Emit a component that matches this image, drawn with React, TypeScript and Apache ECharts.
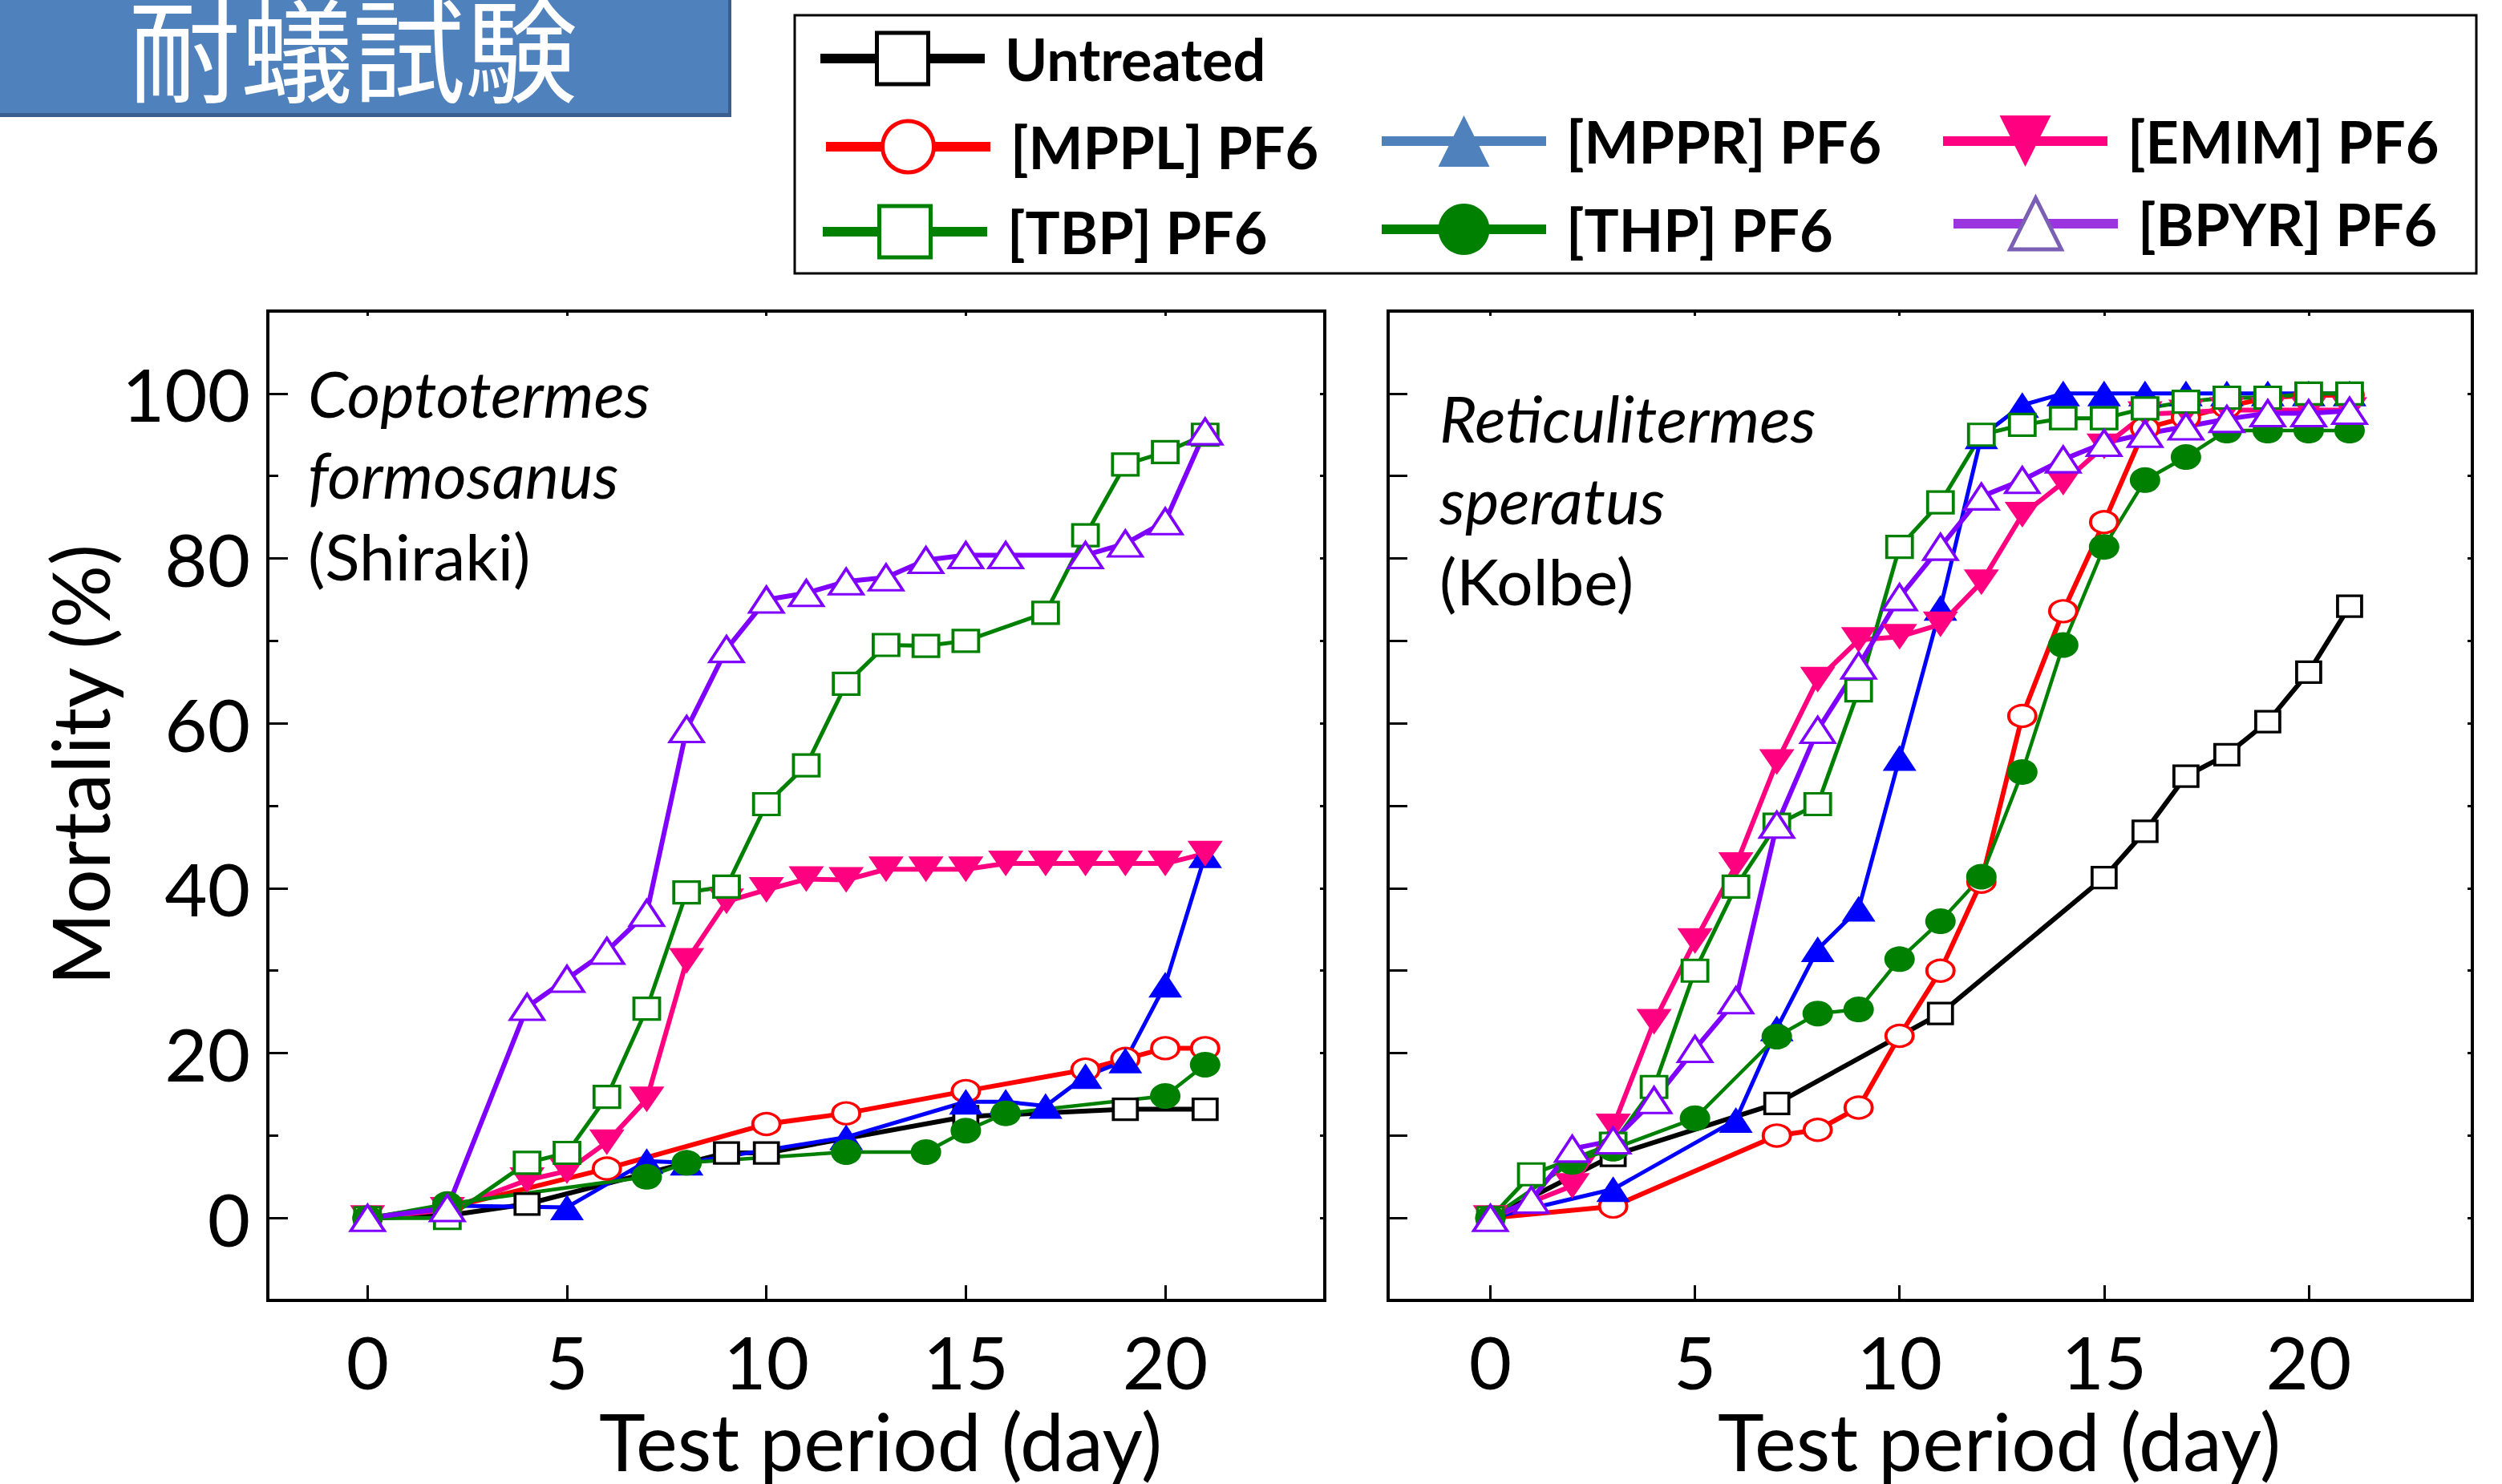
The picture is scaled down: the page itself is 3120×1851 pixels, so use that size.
import React, { useEffect, useRef } from 'react';
import * as echarts from 'echarts';

// ---------- tick values ----------
const DAY_TICKS = [0, 5, 10, 15, 20];
const MORTALITY_MAJOR = [0, 20, 40, 60, 80, 100];
const MORTALITY_MINOR = [10, 30, 50, 70, 90];
const MORTALITY_ALL = [0, 10, 20, 30, 40, 50, 60, 70, 80, 90, 100];

// ---------- series names ----------
const NAMES = ['Untreated', '[MPPL] PF6', '[MPPR] PF6', '[EMIM] PF6', '[TBP] PF6', '[THP] PF6', '[BPYR] PF6'];

// ---------- Coptotermes formosanus (left panel): [day, mortality %] ----------
const cfUntreated = [[0, 0], [2, 0.3], [4, 1.7], [9, 7.9], [10, 7.9], [15, 12.3], [19, 13.2], [21, 13.2]];
const cfMPPL = [[0, 0], [2, 1.2], [6, 6], [10, 11.4], [12, 12.7], [15, 15.4], [18, 18], [19, 19.3], [20, 20.6], [21, 20.6]];
const cfMPPR = [[0, 0], [2, 1.5], [5, 1.3], [7, 6.9], [8, 6.7], [12, 9.8], [15, 14.1], [16, 14.1], [17, 13.6], [18, 17.2], [19, 19.1], [20, 28.3], [21, 44]];
const cfEMIM = [[0, 0], [2, 1], [4, 4.6], [5, 5.7], [6, 9.2], [7, 14.4], [8, 31.2], [9, 38.4], [10, 39.8], [11, 41.1], [12, 41], [13, 42.3], [14, 42.3], [15, 42.3], [16, 43], [17, 43], [18, 43], [19, 43], [20, 43], [21, 44.2]];
const cfTBP = [[0, 0], [2, 0], [4, 6.7], [5, 7.9], [6, 14.7], [7, 25.4], [8, 39.5], [9, 40.2], [10, 50.2], [11, 54.9], [12, 64.8], [13, 69.5], [14, 69.4], [15, 70], [17, 73.4], [18, 82.8], [19, 91.4], [20, 92.9], [21, 95]];
const cfTHP = [[0, 0], [2, 1.7], [7, 5], [8, 6.7], [12, 8], [14, 8], [15, 10.6], [16, 12.7], [20, 14.8], [21, 18.6]];
const cfBPYR = [[0, 0], [2, 1.2], [4, 25.6], [5, 29], [6, 32.4], [7, 37], [8, 59.3], [9, 69], [10, 75], [11, 75.8], [12, 77.2], [13, 77.7], [14, 79.8], [15, 80.4], [16, 80.4], [18, 80.4], [19, 81.8], [20, 84.5], [21, 95.4]];

// ---------- Reticulitermes speratus (right panel): [day, mortality %] ----------
const rsUntreated = [[0, 0], [3, 7.6], [7, 13.9], [11, 24.8], [15, 41.3], [16, 46.9], [17, 53.6], [18, 56.2], [19, 60.2], [20, 66.2], [21, 74.2]];
const rsMPPL = [[0, 0], [3, 1.4], [7, 10], [8, 10.7], [9, 13.4], [10, 22.1], [11, 30], [12, 40.8], [13, 60.9], [14, 73.6], [15, 84.4], [16, 95.8], [17, 97.1], [18, 98.4], [19, 99.5], [20, 99.8], [21, 99.8]];
const rsMPPR = [[0, 0], [3, 3.5], [6, 11.9], [7, 23], [8, 32.6], [9, 37.5], [10, 55.8], [11, 74], [12, 94.8], [13, 98.6], [14, 100], [15, 100], [16, 100], [17, 100], [18, 100], [19, 100], [20, 100], [21, 100]];
const rsEMIM = [[0, 0], [2, 3.9], [3, 11.1], [4, 23.8], [5, 33.6], [6, 42.8], [7, 55.3], [8, 65.3], [9, 70.1], [10, 70.5], [11, 72], [12, 77.1], [13, 85.3], [14, 89.2], [15, 93.6], [16, 97.5], [17, 97.7], [18, 98], [19, 98], [20, 98], [21, 98]];
const rsTBP = [[0, 0], [1, 5.3], [3, 9], [4, 15.9], [5, 30], [6, 40.2], [7, 47.7], [8, 50.2], [9, 64], [10, 81.4], [11, 86.8], [12, 95], [13, 96.2], [14, 97], [15, 97], [16, 98.2], [17, 99], [18, 99.5], [19, 99.5], [20, 100], [21, 100]];
const rsTHP = [[0, 0], [2, 6.8], [3, 8.4], [5, 12.1], [7, 22], [8, 24.8], [9, 25.3], [10, 31.4], [11, 36], [12, 41.4], [13, 54.1], [14, 69.5], [15, 81.4], [16, 89.5], [17, 92.3], [18, 95.5], [19, 95.5], [20, 95.5], [21, 95.5]];
const rsBPYR = [[0, 0], [1, 2.2], [2, 8.4], [3, 9.4], [4, 14.3], [5, 20.5], [6, 26.4], [7, 47.7], [8, 59.2], [9, 67], [10, 75.3], [11, 81.4], [12, 87.5], [13, 89.5], [14, 92], [15, 94], [16, 95.1], [17, 96], [18, 96.9], [19, 97.6], [20, 97.6], [21, 97.9]];

const LEFT_DATA = [cfUntreated, cfMPPL, cfMPPR, cfEMIM, cfTBP, cfTHP, cfBPYR];
const RIGHT_DATA = [rsUntreated, rsMPPL, rsMPPR, rsEMIM, rsTBP, rsTHP, rsBPYR];

// ---------- styles (aligned with NAMES) ----------
const DOWN_TRI = 'path://M0,0L10,0L5,8Z';
const STYLES = [
  { color: '#000000', symbol: 'rect', size: [30, 26], fill: '#ffffff', bw: 3.5, lw: 6 },
  { color: '#FF0000', symbol: 'circle', size: [34, 27], fill: '#ffffff', bw: 3.5, lw: 6 },
  { color: '#0000FF', symbol: 'triangle', size: [42, 32], fill: '#0000FF', bw: 0, lw: 5 },
  { color: '#FF0080', symbol: DOWN_TRI, size: [44, 32], fill: '#FF0080', bw: 0, lw: 6 },
  { color: '#008000', symbol: 'rect', size: [32, 27], fill: '#ffffff', bw: 3.5, lw: 5 },
  { color: '#008000', symbol: 'circle', size: [38, 32], fill: '#008000', bw: 0, lw: 4.5 },
  { color: '#8000FF', symbol: 'triangle', size: [42, 32], fill: '#ffffff', bw: 3.5, lw: 6 },
];

const LEGEND_LAYOUT = [
  { left: 1017, top: 37 },
  { left: 1024, top: 147 },
  { left: 1717, top: 140 },
  { left: 2417, top: 140 },
  { left: 1020, top: 253 },
  { left: 1717, top: 250 },
  { left: 2430, top: 243 },
];

const LEGEND_OVERRIDE: Record<string, any> = {
  '[MPPR] PF6': { itemStyle: { color: '#4F81BD', borderColor: '#4F81BD' }, lineStyle: { color: '#4F81BD' } },
  '[BPYR] PF6': { itemStyle: { color: '#ffffff', borderColor: '#7B5FB5' }, lineStyle: { color: '#9B35E0' } },
};

const FONT = 'Lato, "Open Sans", sans-serif';

function buildOption() {
  const series: any[] = [];
  NAMES.forEach((name, i) => {
    const s = STYLES[i];
    [LEFT_DATA[i], RIGHT_DATA[i]].forEach((data, g) => {
      series.push({
        type: 'line',
        name,
        data,
        xAxisIndex: g === 0 ? 0 : 2,
        yAxisIndex: g === 0 ? 0 : 3,
        symbol: s.symbol,
        symbolSize: s.size,
        showAllSymbol: true,
        lineStyle: { color: s.color, width: s.lw },
        itemStyle: { color: s.fill, borderColor: s.color, borderWidth: s.bw },
        emphasis: { disabled: true },
      });
    });
  });

  const tickLine = { color: '#000', width: 3 };
  const noLine = { show: false, onZero: false };
  const xBase = { type: 'value', min: -2.5, max: 24, splitLine: { show: false }, axisLine: noLine };
  const yBase = { type: 'value', min: -10, max: 110, interval: 10, splitLine: { show: false }, axisLine: noLine };
  const tickLabel = { fontSize: 92, fontFamily: FONT, color: '#000', lineHeight: 70 };
  const nameStyle = { fontSize: 98, fontFamily: FONT, color: '#000', lineHeight: 80 };

  const xAxis = [0, 1].flatMap((g) => [
    {
      ...xBase,
      gridIndex: g,
      position: 'bottom',
      axisTick: { show: true, inside: true, length: 19, customValues: DAY_TICKS, lineStyle: tickLine },
      axisLabel: { show: true, customValues: DAY_TICKS, margin: 40, hideOverlap: false, ...tickLabel },
      name: 'Test period (day)',
      nameLocation: 'middle',
      nameGap: 133,
      nameTextStyle: { ...nameStyle, padding: [0, 0, 0, g === 0 ? 210 : 172] },
    },
    {
      ...xBase,
      gridIndex: g,
      position: 'top',
      axisTick: { show: true, inside: true, length: 6, customValues: DAY_TICKS, lineStyle: tickLine },
      axisLabel: { show: false },
    },
  ]);

  const yAxis = [
    {
      ...yBase,
      gridIndex: 0,
      position: 'left',
      axisTick: { show: true, inside: true, length: 25, customValues: MORTALITY_MAJOR, lineStyle: tickLine },
      axisLabel: { show: true, customValues: MORTALITY_MAJOR, margin: 22, ...tickLabel },
      name: 'Mortality (%)',
      nameLocation: 'middle',
      nameGap: 195,
      nameRotate: 90,
      nameTextStyle: { ...nameStyle, padding: [0, 0, 0, 102] },
    },
    {
      ...yBase,
      gridIndex: 0,
      position: 'left',
      axisTick: { show: true, inside: true, length: 13, customValues: MORTALITY_MINOR, lineStyle: tickLine },
      axisLabel: { show: false },
    },
    {
      ...yBase,
      gridIndex: 0,
      position: 'right',
      axisTick: { show: true, inside: true, length: 6, customValues: MORTALITY_ALL, lineStyle: tickLine },
      axisLabel: { show: false },
    },
    {
      ...yBase,
      gridIndex: 1,
      position: 'left',
      axisTick: { show: true, inside: true, length: 24, customValues: MORTALITY_ALL, lineStyle: tickLine },
      axisLabel: { show: false },
    },
    {
      ...yBase,
      gridIndex: 1,
      position: 'right',
      axisTick: { show: true, inside: true, length: 6, customValues: MORTALITY_ALL, lineStyle: tickLine },
      axisLabel: { show: false },
    },
  ];

  const legend = NAMES.map((name, i) => ({
    data: [{ name, ...(LEGEND_OVERRIDE[name] || {}) }],
    left: LEGEND_LAYOUT[i].left,
    top: LEGEND_LAYOUT[i].top,
    orient: 'vertical',
    padding: 0,
    itemWidth: 205,
    itemHeight: 80,
    selectedMode: false,
    textStyle: { fontFamily: FONT, fontWeight: 'bold', fontSize: 72, color: '#000', padding: [0, 0, 0, 20] },
    lineStyle: { width: 12 },
    itemStyle: { borderWidth: STYLES[i].bw > 0 ? 5 : 0 },
  }));

  const italic = (t: string, x: number, y: number) => ({
    type: 'text', x, y,
    style: { text: t, font: `italic 80px ${FONT}`, fill: '#000', textAlign: 'left', textVerticalAlign: 'middle', align: 'left', verticalAlign: 'middle' },
  });
  const plain = (t: string, x: number, y: number) => ({
    type: 'text', x, y,
    style: { text: t, font: `80px ${FONT}`, fill: '#000', textAlign: 'left', textVerticalAlign: 'middle', align: 'left', verticalAlign: 'middle' },
  });

  const graphic = [
    { type: 'rect', shape: { x: 0, y: 0, width: 912, height: 146 }, style: { fill: '#3A5F8E' } },
    { type: 'rect', shape: { x: 0, y: 0, width: 908, height: 141 }, style: { fill: '#4F81BD' } },
    {
      type: 'text', x: 440, y: 56,
      style: { text: '耐蟻試験', font: '140px "Noto Sans CJK JP"', fill: '#ffffff', textAlign: 'center', textVerticalAlign: 'middle', align: 'center', verticalAlign: 'middle' },
    },
    { type: 'rect', shape: { x: 991, y: 19, width: 2097, height: 322 }, style: { fill: 'none', stroke: '#000', lineWidth: 3 } },
    italic('Coptotermes', 384, 490),
    italic('formosanus', 384, 591),
    plain('(Shiraki)', 384, 693),
    italic('Reticulitermes', 1795, 521),
    italic('speratus', 1795, 623),
    plain('(Kolbe)', 1795, 724),
  ];

  return {
    animation: false,
    backgroundColor: '#ffffff',
    textStyle: { fontFamily: FONT },
    grid: [
      { left: 334, top: 388, width: 1318, height: 1240, show: true, borderColor: '#000', borderWidth: 4, backgroundColor: 'transparent' },
      { left: 1731, top: 388, width: 1352, height: 1240, show: true, borderColor: '#000', borderWidth: 4, backgroundColor: 'transparent' },
    ],
    xAxis,
    yAxis,
    legend,
    graphic,
    series,
  };
}

export default function App() {
  const ref = useRef<HTMLDivElement>(null);
  useEffect(() => {
    document.body.style.margin = '0';
    document.body.style.overflow = 'hidden';
    if (!ref.current) return;
    const chart = echarts.init(ref.current, undefined, { renderer: 'svg' });
    chart.setOption(buildOption() as any);
    return () => chart.dispose();
  }, []);
  return <div ref={ref} style={{ width: 3120, height: 1851 }} />;
}
